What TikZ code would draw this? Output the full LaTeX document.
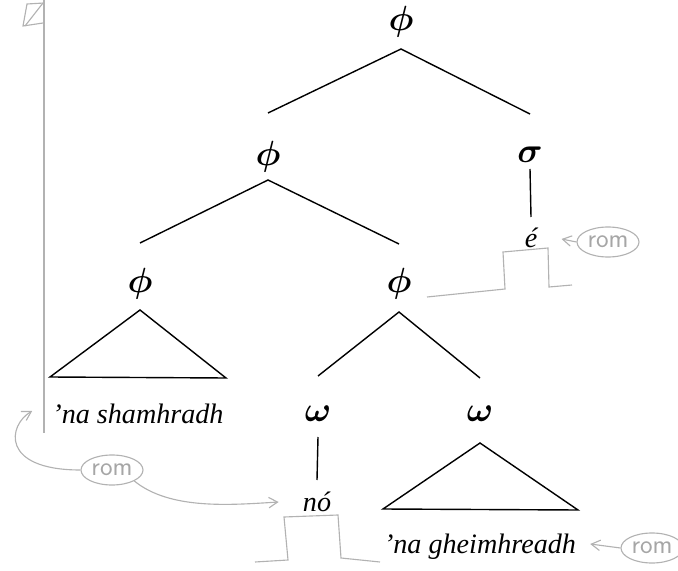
\documentclass[tikz,border=0pt]{standalone}
\usepackage{fontspec}
\setmainfont{Liberation Serif}
\usetikzlibrary{arrows.meta, shapes.geometric, calc}

\begin{document}
\begin{tikzpicture}[
    x=0.025cm, y=-0.025cm,
    lab/.style={inner sep=0pt, font=\fontsize{23}{26}\selectfont\boldmath},
    wrd/.style={inner sep=0pt, font=\fontsize{20}{24}\selectfont\itshape},
    br/.style={line width=1pt},
    pen/.style={draw=gray!60, line width=0.8pt},
    penarr/.style={pen, -{Straight Barb[length=2.2mm, width=2.6mm]}},
    rom/.style={pen, ellipse, inner sep=1pt, minimum width=1.45cm, minimum height=0.75cm, text=gray!70, font=\fontsize{19}{20}\selectfont\sffamily},
]
\useasboundingbox (0,0) rectangle (678,571);

% tree labels
\node[lab] (p0) at (401,22) {$\phi$};
\node[lab] (p1) at (268,157) {$\phi$};
\node[lab] (s1) at (530,155) {$\sigma$};
\node[wrd] (e) at (531,238) {é};
\node[lab] (p2) at (140,284) {$\phi$};
\node[lab] (p3) at (399,284) {$\phi$};
\node[wrd] (w0) at (138,414) {’na shamhradh};
\node[lab] (w1) at (318,414) {$\omega$};
\node[lab] (w2) at (480,414) {$\omega$};
\node[wrd] (no) at (317,502) {nó};
\node[wrd] (w3) at (480,547) {’na gheimhreadh};

% branches
\draw[br] ($(p1)+(0,-44)$) -- ($(p0)+(0,27)$) -- ($(s1)+(0,-41)$);
\draw[br] ($(p2)+(0,-41)$) -- ($(p1)+(0,23)$) -- ($(p3)+(0,-40)$);
\draw[br] ($(w1)+(0,-38)$) -- ($(p3)+(0,28)$) -- ($(w2)+(0,-36)$);
\draw[br] ($(s1)+(0,14)$) -- ($(e)+(0,-21)$);
\draw[br] ($(w1)+(0,23)$) -- ($(no)+(0,-22)$);
\draw[br] ($(p2)+(-90,93)$) -- ($(p2)+(0,26)$) -- ($(p2)+(86,94)$) -- cycle;
\draw[br] ($(w2)+(-97,95)$) -- ($(w2)+(0,29)$) -- ($(w2)+(98,96)$) -- cycle;

% pencil notes
\node[rom] (r1) at (608,242) {rom};
\node[rom] (r2) at (112,470) {rom};
\node[rom] (r3) at (652,548) {rom};
\draw[penarr] (r1.west) -- ($(e.east)+(24,1)$);
\draw[penarr] (r3.west) -- ($(w3.east)+(14,-3)$);
\draw[penarr] (r2.west) .. controls (0,470) and (8,425) .. ($(w0.west)+(-20,-3)$);
\draw[penarr] (r2.south east) .. controls (170,510) and (230,505) .. ($(no.west)+(-24,0)$);

\draw[pen] (427,297) -- (505,289) -- (503,252) -- (548,248) -- (549,287) -- (572,285);
\draw[pen] (255,562) -- (288,560) -- (284,517) -- (338,515) -- (341,558) -- (380,562);
\draw[pen] (44,0) -- (44,433);
\draw[pen] (44,3) -- (27,4) -- (23,26) -- (43,23);
\draw[pen] (43,3) -- (25,26);

\end{tikzpicture}
\end{document}
